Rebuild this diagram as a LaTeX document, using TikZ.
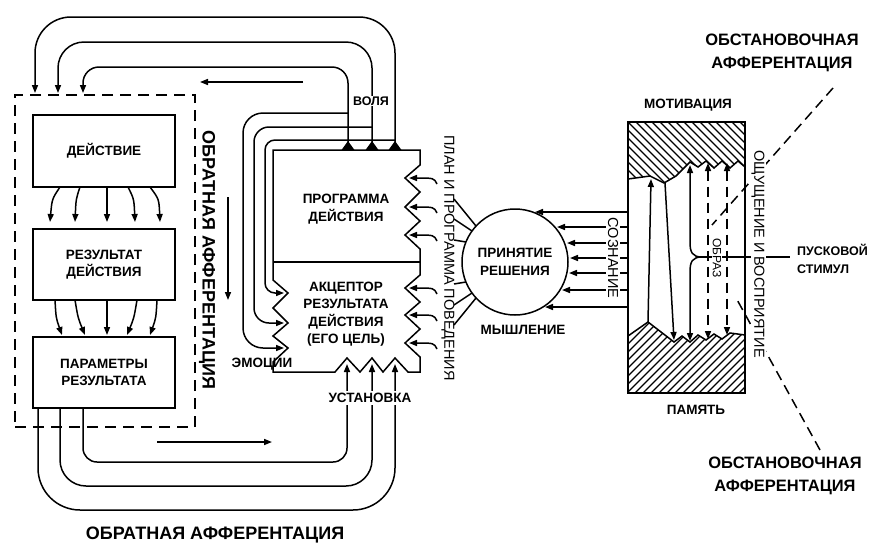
\documentclass[tikz,border=0pt]{standalone}
\usepackage{fontspec}
\setmainfont{Liberation Sans}
\usetikzlibrary{arrows.meta}
\begin{document}
\begin{tikzpicture}[x=1pt,y=-1pt,
  ln/.style={line width=1.5pt},
  arr/.style={ln,-{Triangle[length=8pt,width=6pt]}},
  darr/.style={ln,{Triangle[length=8pt,width=6pt]}-{Triangle[length=8pt,width=6pt]}},
  dsh/.style={dash pattern=on 10pt off 6pt},
  lbl/.style={font=\bfseries\fontsize{13.5}{17.5}\selectfont,align=center,inner sep=1pt},
  big/.style={font=\bfseries\fontsize{16.5}{23}\selectfont,align=center,inner sep=1pt},
  bigger/.style={font=\bfseries\fontsize{18}{23}\selectfont,align=center,inner sep=1pt},
  thin/.style={font=\fontsize{14.5}{16}\selectfont,inner sep=1pt},
  blk/.style={draw,line width=1.5pt,inner sep=0pt,align=center,font=\bfseries\fontsize{13.5}{17.5}\selectfont},
]
\useasboundingbox (0,0) rectangle (873,544);
\fill[white] (0,0) rectangle (873,544);

% ---------------- left block ----------------
\node[draw,line width=1.8pt,dash pattern=on 11pt off 7pt,minimum width=180pt,minimum height=332pt,inner sep=0pt] (frame) at (105,261) {};
\node[blk,minimum width=142pt,minimum height=72pt] (act) at (104,151) {ДЕЙСТВИЕ};
\node[blk,minimum width=142pt,minimum height=71pt] (res) at (104,264.5) {РЕЗУЛЬТАТ\\ДЕЙСТВИЯ};
\node[blk,minimum width=142pt,minimum height=71pt] (par) at (104,372.5) {ПАРАМЕТРЫ\\РЕЗУЛЬТАТА};

% fan arrows ДЕЙСТВИЕ -> РЕЗУЛЬТАТ
\draw[arr] (60,187) .. controls (52,199) .. (50,222);
\draw[arr] (80,187) .. controls (76,199) .. (75,222);
\draw[arr] (107,187) -- (107,222);
\draw[arr] (128,187) .. controls (134,199) .. (135,222);
\draw[arr] (150,187) .. controls (159,199) .. (160,222);
% converging arrows РЕЗУЛЬТАТ -> ПАРАМЕТРЫ
\draw[arr] (55,300) .. controls (56,318) .. (62,335);
\draw[arr] (75,300) .. controls (78,318) .. (85,335);
\draw[arr] (107,300) -- (107,335);
\draw[arr] (137,300) .. controls (134,318) .. (127,335);
\draw[arr] (157,300) .. controls (156,318) .. (150,335);

\node[bigger,rotate=-90] (oa1) at (207,260) {ОБРАТНАЯ АФФЕРЕНТАЦИЯ};
\draw[arr] (228,197) -- (228,300);
\draw[arr] (303,82) -- (200,82);
\draw[arr] (157,442) -- (272,442);

% ---------------- program / acceptor ----------------
\node[minimum width=147pt,minimum height=222pt,inner sep=0pt] (prog) at (346.5,261) {};
\draw[ln,line join=miter] (273,150) -- (420,150) -- (420,165) -- (405,178) -- (420,192) -- (405,207) -- (420,221) -- (405,235) -- (420,249) -- (420,275) -- (405,288) -- (420,302) -- (405,315) -- (420,329) -- (405,343) -- (420,357) -- (420,372) -- (408,372) -- (395,358) -- (383,372) -- (372,358) -- (360,372) -- (347,358) -- (335,372) -- (273,372) -- (273,362) -- (288,348) -- (273,336) -- (288,323) -- (273,308) -- (288,293) -- (273,280) -- cycle;
\draw[ln] (273,262) -- (420,262);
\node[lbl] (progtxt) at (346,209) {ПРОГРАММА\\ДЕЙСТВИЯ};
\node[lbl] (acctxt) at (346,314) {АКЦЕПТОР\\РЕЗУЛЬТАТА\\ДЕЙСТВИЯ\\(ЕГО ЦЕЛЬ)};

% top loops to ДЕЙСТВИЕ
\draw[arr,rounded corners=36pt] (395,150) -- (395,17) -- (35,17) -- (35,93);
\draw[arr,rounded corners=26pt] (372,150) -- (372,42) -- (58,42) -- (58,93);
\draw[arr,rounded corners=16pt] (348,150) -- (348,67) -- (83,67) -- (83,93);
\foreach \x in {348,372,395} \fill (\x-6.5,150) -- (\x+6.5,150) -- (\x,141) -- cycle;
\node[lbl,fill=white,font=\bfseries\fontsize{12.5}{15}\selectfont] (volya) at (371,101) {ВОЛЯ};

% emotion loops
\draw[arr,rounded corners=20pt] (348,113) -- (243,113) -- (243,348) -- (284,348);
\draw[arr,rounded corners=15pt] (372,127) -- (254,127) -- (254,323) -- (284,323);
\draw[arr,rounded corners=10pt] (395,140) -- (265,140) -- (265,293) -- (284,293);
\node[lbl] (emo) at (262,364) {ЭМОЦИИ};

% bottom loops
\draw[arr,rounded corners=14pt] (83,408) -- (83,462) -- (347,462) -- (347,364);
\draw[arr,rounded corners=26pt] (60,408) -- (60,486) -- (372,486) -- (372,364);
\draw[arr,rounded corners=42pt] (38,408) -- (38,510) -- (395,510) -- (395,364);
\node[lbl,fill=white,inner sep=2pt] (ust) at (370,398) {УСТАНОВКА};
\node[bigger] (oa2) at (215,535) {ОБРАТНАЯ АФФЕРЕНТАЦИЯ};

% right-side arrows into program
\foreach \y in {178,207,235,288,315,343}
  \draw[arr] (437,\y+6) .. controls (434,\y) .. (409,\y);
\node[thin,rotate=-90] (plan) at (448,258) {ПЛАН И ПРОГРАММА ПОВЕДЕНИЯ};

% ---------------- decision ----------------
\node[draw,line width=1.5pt,circle,minimum size=106pt,inner sep=0pt,lbl] (dec) at (515,262) {ПРИНЯТИЕ\\РЕШЕНИЯ};
\draw[ln] (454,199) -- (476,226);
\draw[ln] (454,219) -- (472,231);
\draw[ln] (454,240) -- (466,242);
\draw[ln] (454,284) -- (466,282);
\draw[ln] (454,305) -- (472,293);
\draw[ln] (454,325) -- (476,298);
\node[lbl] (think) at (523,330) {МЫШЛЕНИЕ};

% consciousness arrows
\foreach \y/\t in {212/535,227/557,243/567,258/570,273/569,290/562,307/545}
  \draw[arr] (628,\y) -- (\t,\y);
\node[thin,rotate=-90,fill=white,inner sep=2pt] (soz) at (613,258) {СОЗНАНИЕ};

% ---------------- memory block ----------------
\node[minimum width=117pt,minimum height=271pt,inner sep=0pt] (mem) at (686.5,257.5) {};
\begin{scope}
  \clip (628,122) -- (745,122) -- (745,167) -- (738,161) -- (730,168) -- (722,161) -- (714,168) -- (706,161) -- (698,167) -- (690,162) -- (676,176) -- (664,183) -- (650,176) -- (628,179) -- cycle;
  \foreach \c in {410,418,...,660} \draw[line width=1.2pt] (\c+100,100) -- (\c+200,200);
\end{scope}
\begin{scope}
  \clip (628,393) -- (745,393) -- (745,335) -- (730,333) -- (722,339) -- (714,334) -- (706,340) -- (698,335) -- (690,342) -- (682,336) -- (674,342) -- (648,322) -- (628,336) -- cycle;
  \foreach \c in {940,948,...,1160} \draw[line width=1.2pt] (\c-310,310) -- (\c-410,410);
\end{scope}
\draw[ln] (745,167) -- (738,161) -- (730,168) -- (722,161) -- (714,168) -- (706,161) -- (698,167) -- (690,162) -- (676,176) -- (664,183) -- (650,176) -- (628,179);
\draw[ln] (745,335) -- (730,333) -- (722,339) -- (714,334) -- (706,340) -- (698,335) -- (690,342) -- (682,336) -- (674,342) -- (648,322) -- (628,336);
\draw[ln] (628,122) rectangle (745,393);

\draw[arr] (648,322) -- (651,179);
\draw[arr] (665,183) -- (674,340);
\draw[arr] (702,257) .. controls (692,257) and (690,252) .. (690,242) -- (690,165);
\draw[arr] (702,257) .. controls (692,257) and (690,262) .. (690,272) -- (690,341);
\draw[darr,dsh] (708,163) -- (708,339);
\draw[darr,dsh] (727,163) -- (727,335);
\draw[ln,dsh] (833,88) -- (712,225);
\draw[ln,dsh] (820,450) -- (735,296);
\draw[ln] (702,257) -- (790,257);
\node[thin,rotate=-90,fill=white,font=\fontsize{12}{14}\selectfont] (obraz) at (717,258) {ОБРАЗ};
\node[thin,rotate=-90,fill=white] (osh) at (758,254) {ОЩУЩЕНИЕ И ВОСПРИЯТИЕ};

\node[lbl] (motiv) at (688,105) {МОТИВАЦИЯ};
\node[lbl] (pam) at (696,410) {ПАМЯТЬ};
\node[lbl,anchor=west,align=left,font=\bfseries\fontsize{12.5}{17.5}\selectfont] (stim) at (796,259) {ПУСКОВОЙ\\СТИМУЛ};
\node[big] (obst1) at (782,53) {ОБСТАНОВОЧНАЯ\\АФФЕРЕНТАЦИЯ};
\node[big] (obst2) at (785,476) {ОБСТАНОВОЧНАЯ\\АФФЕРЕНТАЦИЯ};
\end{tikzpicture}
\end{document}
